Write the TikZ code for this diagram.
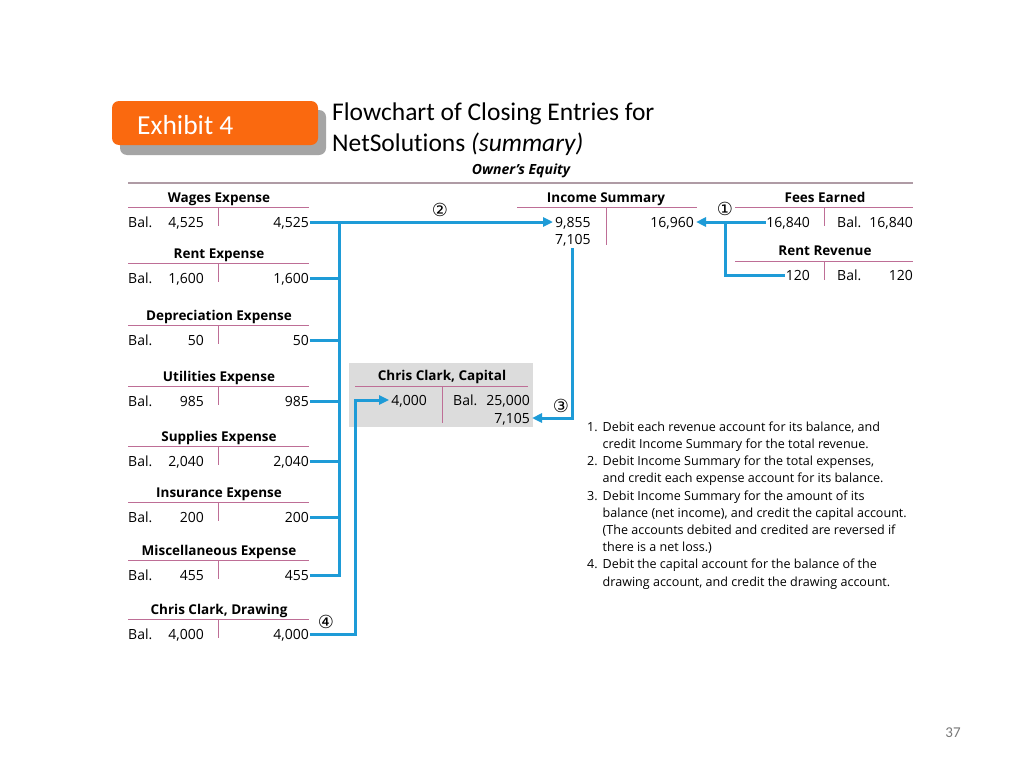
\documentclass[tikz,border=0pt]{standalone}
\usepackage{fontspec}
\setmainfont{Open Sans}
\newfontfamily\calfont[Ligatures=NoCommon]{Carlito}
\newfontfamily\circfont{DejaVu Sans}
\usetikzlibrary{arrows.meta}
\definecolor{flowblue}{RGB}{30,155,215}
\definecolor{tcol}{RGB}{190,110,150}
\definecolor{rulecol}{RGB}{175,155,165}
\definecolor{exorange}{RGB}{250,105,15}
\definecolor{shadowgray}{RGB}{165,165,165}
\definecolor{capgray}{RGB}{220,220,220}
\definecolor{pagegray}{RGB}{120,120,120}
\tikzset{
  tline/.style={draw=tcol,line width=1pt},
  val/.style={font=\fontsize{14}{16}\selectfont,inner sep=2pt,text height=11.5pt,text depth=1.5pt},
  hdr/.style={font=\bfseries\fontsize{13.5}{16}\selectfont,inner sep=0pt,text height=10pt,text depth=3pt},
  flow/.style={draw=flowblue,line width=3pt,line cap=rect},
  arr/.style={flow,-{Triangle[length=10pt,width=9pt]}},
  circ/.style={font=\circfont\fontsize{18}{18}\selectfont,inner sep=0pt},
}
\newcommand\expacc[4]{%
  \node[hdr] (#1h) at (219,#3-8.5) {#2};
  \draw[tline] (128,#3) -- (309,#3);
  \draw[tline] (218,#3) -- (218,#3+19);
  \node[val,anchor=west] (#1b) at (126,#3+15) {Bal.};
  \node[val,anchor=east] (#1d) at (206,#3+15) {#4};
  \node[val,anchor=east] (#1c) at (311,#3+15) {#4};
}
\begin{document}
\begin{tikzpicture}[x=1pt,y=-1pt]
\useasboundingbox[fill=white] (0,0) rectangle (1024,768);
% Exhibit label
\fill[shadowgray,rounded corners=7pt] (120,110) rectangle (326,155);
\fill[exorange,rounded corners=7pt] (112,101) rectangle (318,145);
\node[anchor=west,text=white,font=\calfont\fontsize{27.5}{30}\selectfont,inner sep=0pt] (ex) at (137,125) {Exhibit 4};
\node[anchor=base west,align=left,font=\calfont\fontsize{25.5}{31}\selectfont,inner sep=0pt] (title) at (332,151)
  {Flowchart of Closing Entries for\\NetSolutions \textit{(summary)}};
\node[font=\bfseries\itshape\fontsize{14}{15}\selectfont,inner sep=0pt] (oe) at (521,171) {Owner’s Equity};
\draw[draw=rulecol,line width=1.5pt] (128,183) -- (913,183);

% expense accounts
\expacc{w}{Wages Expense}{207}{4,525}
\expacc{r}{Rent Expense}{263}{1,600}
\expacc{d}{Depreciation Expense}{325}{50}
\expacc{u}{Utilities Expense}{386}{985}
\expacc{s}{Supplies Expense}{446}{2,040}
\expacc{i}{Insurance Expense}{502}{200}
\expacc{m}{Miscellaneous Expense}{560}{455}
\expacc{dr}{Chris Clark, Drawing}{619}{4,000}

% Income Summary
\node[hdr] (ish) at (606,198.5) {Income Summary};
\draw[tline] (517,207) -- (697,207);
\draw[tline] (606,207) -- (606,245);
\node[val,anchor=west] (isa) at (553,222) {9,855};
\node[val,anchor=west] (isb) at (553,239) {7,105};
\node[val,anchor=east] (isc) at (696,222) {16,960};

% Fees Earned
\node[hdr] (feh) at (825,198.5) {Fees Earned};
\draw[tline] (735,207) -- (913,207);
\draw[tline] (824,207) -- (824,226);
\node[val,anchor=east] (fed) at (812,222) {16,840};
\node[val,anchor=west] (feb) at (835,222) {Bal.};
\node[val,anchor=east] (fec) at (915,222) {16,840};

% Rent Revenue
\node[hdr] (rrh) at (825,251.5) {Rent Revenue};
\draw[tline] (735,261) -- (913,261);
\draw[tline] (824,261) -- (824,280);
\node[val,anchor=east] (rrd) at (812,275) {120};
\node[val,anchor=west] (rrb) at (835,275) {Bal.};
\node[val,anchor=east] (rrc) at (915,275) {120};

% Capital
\fill[capgray] (349,363) rectangle (533,427);
\node[hdr] (caph) at (442,376.5) {Chris Clark, Capital};
\draw[tline] (355,386) -- (528,386);
\draw[tline] (442,386) -- (442,423);
\node[val,anchor=east] (capd) at (429,400) {4,000};
\node[val,anchor=west] (capb) at (451,400) {Bal.};
\node[val,anchor=east] (capc) at (532,400) {25,000};
\node[val,anchor=east] (cape) at (532,418) {7,105};

% connectors
\coordinate (bus) at (339,222);
\coordinate (j1) at (725,222);
\coordinate (jd) at (355,400);
\foreach \a in {r,d,u,s,i,m} {\draw[flow] (\a c.east) -- (\a c.east -| bus);}
\draw[flow] (bus) -- (mc.east -| bus);
\draw[arr] (wc.east) -- (isa.west);
\draw[arr] (fed.west) -- (isc.east);
\draw[flow] (rrd.west) -| (j1);
\draw[arr] ([yshift=-2pt]isb.south) |- (cape.east);
\draw[arr] (drc.east) -| (jd) -- (capd.west);

\node[circ] (c1) at (725,209) {①};
\node[circ] (c2) at (440,210) {②};
\node[circ] (c3) at (561,406) {③};
\node[circ] (c4) at (326,622) {④};

% notes
\node[anchor=north west,inner sep=0pt,font=\fontsize{12.55}{17.2}\selectfont] (notes) at (587,419) {%
\begin{tabular}{@{}l@{\hspace{5pt}}l@{}}
1. & Debit each revenue account for its balance, and\\
   & credit Income Summary for the total revenue.\\
2. & Debit Income Summary for the total expenses,\\
   & and credit each expense account for its balance.\\
3. & Debit Income Summary for the amount of its\\
   & balance (net income), and credit the capital account.\\
   & (The accounts debited and credited are reversed if\\
   & there is a net loss.)\\
4. & Debit the capital account for the balance of the\\
   & drawing account, and credit the drawing account.
\end{tabular}};

\node[text=pagegray,font=\calfont\fontsize{15}{16}\selectfont,inner sep=0pt] (pg) at (953,733) {37};
\end{tikzpicture}
\end{document}
